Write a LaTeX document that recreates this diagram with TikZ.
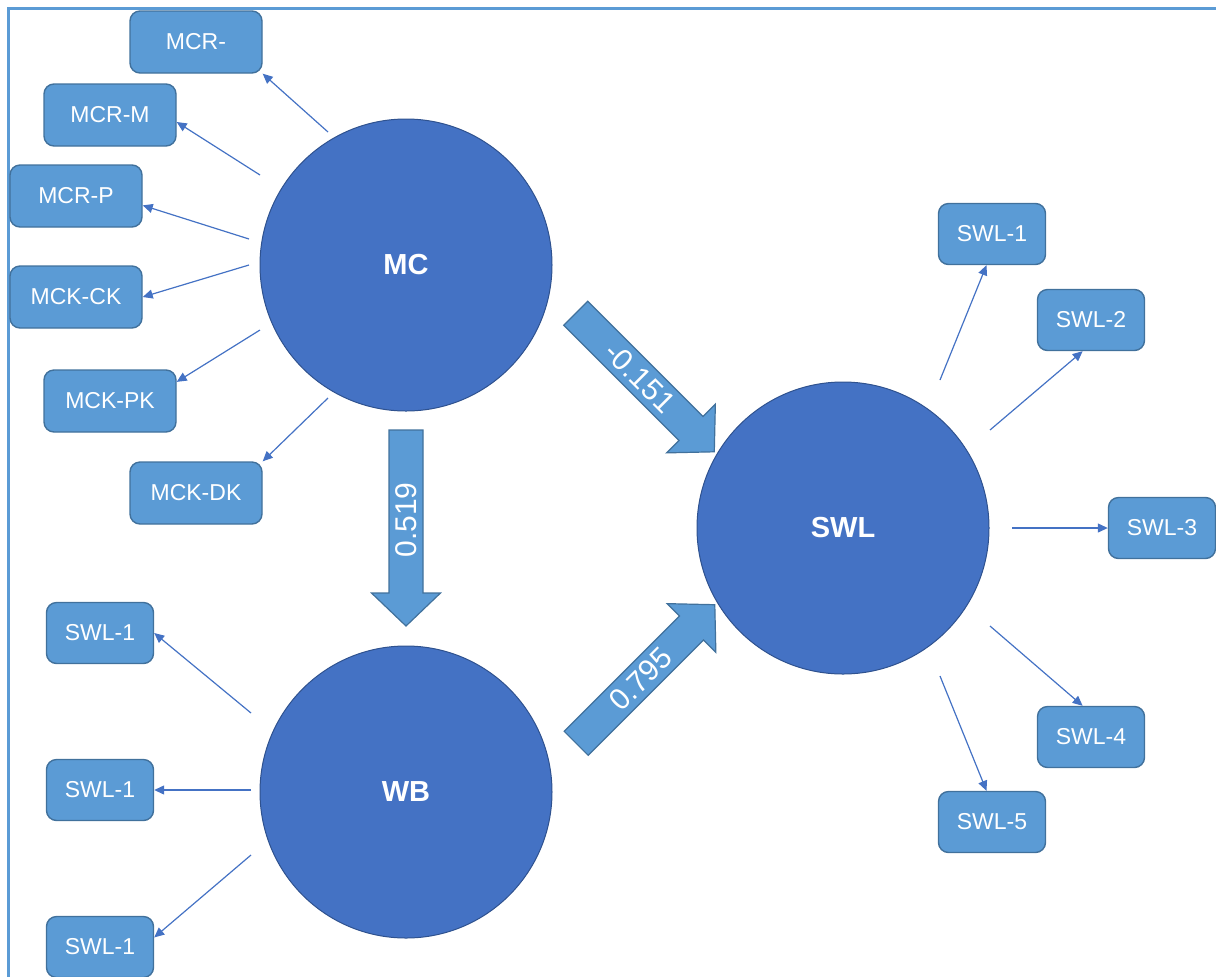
\documentclass[tikz,border=0pt]{standalone}
\usepackage{fontspec}
\setmainfont{Liberation Sans}
\usetikzlibrary{arrows.meta}
\definecolor{circfill}{HTML}{4472C4}
\definecolor{circline}{HTML}{2F528F}
\definecolor{boxfill}{HTML}{5B9BD5}
\definecolor{boxline}{HTML}{41719C}
\begin{document}
\begin{tikzpicture}[x=0.5pt,y=-0.5pt,
  latent/.style={circle,fill=circfill,draw=circline,line width=0.5pt,minimum size=146pt,text=white,font=\fontsize{14.5}{17}\selectfont\bfseries},
  item/.style={rectangle,rounded corners=5pt,fill=boxfill,draw=boxline,line width=0.7pt,minimum width=66pt,minimum height=31pt,inner sep=0pt,text=white,font=\fontsize{11.5}{14}\selectfont},
  itemsm/.style={item,minimum width=53.5pt,minimum height=30.5pt},
  loading/.style={draw=circfill,line width=0.6pt,-{Triangle[width=4.5pt,length=5pt]}},
  bigarrow/.style={fill=boxfill,draw=boxline,line width=0.6pt},
  coef/.style={text=white,font=\fontsize{15}{18}\selectfont,inner sep=0pt}]
\useasboundingbox (0,0) rectangle (1216,976);
\draw[boxfill,line width=1.3pt] (8.5,1100) -- (8.5,8.5) -- (1300,8.5);
% latent variables
\node[latent] (mc) at (406,265) {MC};
\node[latent] (wb) at (406,792) {WB};
\node[latent] (swl) at (843,528) {SWL};
% indicators of MC
\node[item] (mcr) at (196,42) {MCR-};
\node[item] (mcrm) at (110,115) {MCR-M};
\node[item] (mcrp) at (76,196) {MCR-P};
\node[item] (mckck) at (76,297) {MCK-CK};
\node[item] (mckpk) at (110,401) {MCK-PK};
\node[item] (mckdk) at (196,493) {MCK-DK};
% indicators of WB
\node[itemsm] (wb1) at (100,633) {SWL-1};
\node[itemsm] (wb2) at (100,790) {SWL-1};
\node[itemsm] (wb3) at (100,947) {SWL-1};
% indicators of SWL
\node[itemsm] (swl1) at (992,234) {SWL-1};
\node[itemsm] (swl2) at (1091,320) {SWL-2};
\node[itemsm] (swl3) at (1162,528) {SWL-3};
\node[itemsm] (swl4) at (1091,737) {SWL-4};
\node[itemsm] (swl5) at (992,822) {SWL-5};
% loadings
\coordinate (mc1) at (328,132);
\coordinate (mc2) at (260,175);
\coordinate (mc3) at (249,239);
\coordinate (mc4) at (249,265);
\coordinate (mc5) at (260,330);
\coordinate (mc6) at (328,398);
\draw[loading] (mc1) -- (mcr.south east);
\draw[loading] (mc2) -- (mcrm.-6);
\draw[loading] (mc3) -- (mcrp.-8);
\draw[loading] (mc4) -- (mckck.east);
\draw[loading] (mc5) -- (mckpk.16);
\draw[loading] (mc6) -- (mckdk.north east);
\coordinate (wbo1) at (251,713);
\coordinate (wbo2) at (251,790);
\coordinate (wbo3) at (251,855);
\draw[loading] (wbo1) -- (wb1.east);
\draw[loading] (wbo2) -- (wb2.east);
\draw[loading] (wbo3) -- (wb3.10);
\coordinate (swlo1) at (940,380);
\coordinate (swlo2) at (990,430);
\coordinate (swlo3) at (1012,528);
\coordinate (swlo4) at (990,626);
\coordinate (swlo5) at (940,676);
\draw[loading] (swlo1) -- (swl1.-100);
\draw[loading] (swlo2) -- (swl2.-105);
\draw[loading] (swlo3) -- (swl3.west);
\draw[loading] (swlo4) -- (swl4.105);
\draw[loading] (swlo5) -- (swl5.100);
% path coefficients
\begin{scope}[shift={(406,528)},rotate=-90]
\draw[bigarrow] (-98,-17) -- (65,-17) -- (65,-34.5) -- (98,0) -- (65,34.5) -- (65,17) -- (-98,17) -- cycle;
\node[coef,rotate=90] (b1) at (-8,0) {0.519};
\end{scope}
\begin{scope}[shift={(645,382.5)},rotate=-45]
\draw[bigarrow] (-98,-17) -- (65,-17) -- (65,-34.5) -- (98,0) -- (65,34.5) -- (65,17) -- (-98,17) -- cycle;
\node[coef,rotate=-45] (b2) at (-7,0) {-0.151};
\end{scope}
\begin{scope}[shift={(645.5,674)},rotate=45]
\draw[bigarrow] (-98,-17) -- (65,-17) -- (65,-34.5) -- (98,0) -- (65,34.5) -- (65,17) -- (-98,17) -- cycle;
\node[coef,rotate=45] (b3) at (-7,0) {0.795};
\end{scope}
\end{tikzpicture}
\end{document}
